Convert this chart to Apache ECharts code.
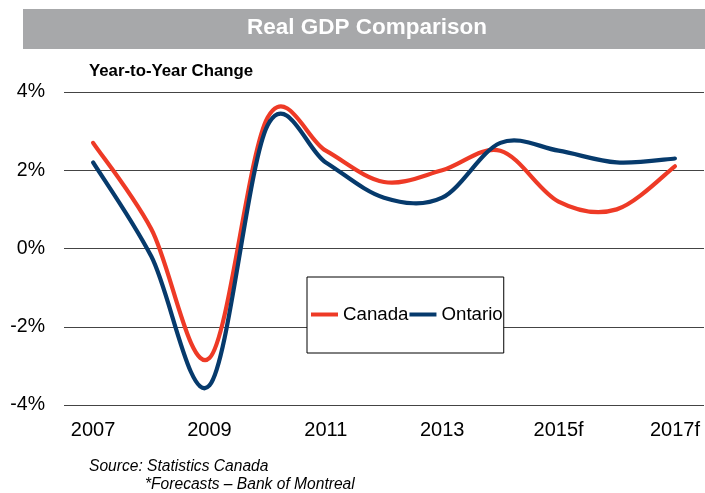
<!DOCTYPE html>
<html>
<head>
<meta charset="utf-8">
<script src="https://cdn.jsdelivr.net/npm/echarts@6/dist/echarts.min.js"></script>
<style>
  html, body { margin: 0; padding: 0; background: #fff; }
  #chart { width: 705px; height: 493px; }
</style>
</head>
<body>
<div id="chart"></div>
<script>
// Real GDP growth, year-over-year (%)
const categories = ['2007', '2008', '2009', '2010', '2011', '2012', '2013', '2014', '2015f', '2016f', '2017f'];
const canada  = [2.7, 0.5, -2.8, 3.35, 2.5, 1.7, 2.0, 2.5, 1.2, 1.0, 2.1];
const ontario = [2.2, -0.2, -3.5, 3.15, 2.2, 1.3, 1.3, 2.7, 2.5, 2.2, 2.3];
const yTicks = { min: -4, max: 4, interval: 2 };

const FONT = "'Liberation Sans', Arial, sans-serif";
const RED = '#EE3A26';
const NAVY = '#063A6C';

// Cardinal (Catmull-Rom) spline through the projected points, so the
// curve may swing slightly past a point like a classic smoothed line chart.
function splinePath(pts) {
  let d = 'M' + pts[0][0] + ' ' + pts[0][1];
  const n = pts.length;
  for (let i = 0; i < n - 1; i++) {
    const p0 = pts[i - 1] || pts[i];
    const p1 = pts[i];
    const p2 = pts[i + 1];
    const p3 = pts[i + 2] || pts[i + 1];
    const c1x = p1[0] + (p2[0] - p0[0]) / 6;
    const c1y = p1[1] + (p2[1] - p0[1]) / 6;
    const c2x = p2[0] - (p3[0] - p1[0]) / 6;
    const c2y = p2[1] - (p3[1] - p1[1]) / 6;
    d += ' C' + c1x + ' ' + c1y + ' ' + c2x + ' ' + c2y + ' ' + p2[0] + ' ' + p2[1];
  }
  return d;
}

function curveSeries(name, values, color) {
  return {
    name: name,
    type: 'custom',
    data: values.map((v, i) => [i, v]),
    encode: { x: 0, y: 1 },
    itemStyle: { color: color },
    renderItem: function (params, api) {
      if (params.dataIndex !== 0) return null;
      const pts = values.map((v, i) => api.coord([i, v]));
      return {
        type: 'path',
        shape: { pathData: splinePath(pts) },
        style: { fill: 'none', stroke: color, lineWidth: 4.2, lineCap: 'round', lineJoin: 'round' }
      };
    }
  };
}

const chart = echarts.init(document.getElementById('chart'), null, { renderer: 'canvas' });

chart.setOption({
  animation: false,
  backgroundColor: '#ffffff',
  grid: { left: 64, right: 1, top: 92, bottom: 88, containLabel: false },
  xAxis: {
    type: 'category',
    data: categories,
    boundaryGap: true,
    axisLine: { show: false },
    axisTick: { show: false },
    axisLabel: {
      interval: 1,
      margin: 15,
      color: '#000',
      fontSize: 20,
      fontFamily: FONT
    },
    splitLine: { show: false }
  },
  yAxis: {
    type: 'value',
    min: yTicks.min,
    max: yTicks.max,
    interval: yTicks.interval,
    axisLine: { show: false },
    axisTick: { show: false },
    axisLabel: {
      formatter: '{value}%',
      margin: 19,
      color: '#000',
      fontSize: 19.5,
      fontFamily: FONT
    },
    splitLine: { show: true, lineStyle: { color: '#444444', width: 1.2 } }
  },
  legend: {
    left: 307,
    top: 277,
    orient: 'horizontal',
    padding: [28, 1, 29, 4],
    itemGap: 1,
    itemWidth: 27,
    itemHeight: 4,
    icon: 'rect',
    borderColor: '#000',
    borderWidth: 1,
    backgroundColor: '#ffffff',
    textStyle: { color: '#000', fontSize: 18.7, fontFamily: FONT },
    data: ['Canada', 'Ontario']
  },
  series: [
    curveSeries('Canada', canada, RED),
    curveSeries('Ontario', ontario, NAVY)
  ],
  graphic: [
    {
      type: 'rect',
      shape: { x: 23, y: 9, width: 682, height: 40 },
      style: { fill: '#A7A8AA' },
      silent: true
    },
    {
      type: 'text',
      style: {
        text: 'Real GDP Comparison',
        x: 367, y: 28,
        textAlign: 'center',
        textVerticalAlign: 'middle',
        font: 'bold 22.5px ' + FONT,
        fill: '#ffffff'
      }
    },
    {
      type: 'text',
      style: {
        text: 'Year-to-Year Change',
        x: 89, y: 71,
        textAlign: 'left',
        textVerticalAlign: 'middle',
        font: 'bold 16.8px ' + FONT,
        fill: '#000'
      }
    },
    {
      type: 'text',
      style: {
        text: 'Source: Statistics Canada',
        x: 89, y: 467,
        textAlign: 'left',
        textVerticalAlign: 'middle',
        font: 'italic 15.6px ' + FONT,
        fill: '#000'
      }
    },
    {
      type: 'text',
      style: {
        text: '*Forecasts \u2013 Bank of Montreal',
        x: 145, y: 485,
        textAlign: 'left',
        textVerticalAlign: 'middle',
        font: 'italic 15.6px ' + FONT,
        fill: '#000'
      }
    }
  ]
});
</script>
</body>
</html>
